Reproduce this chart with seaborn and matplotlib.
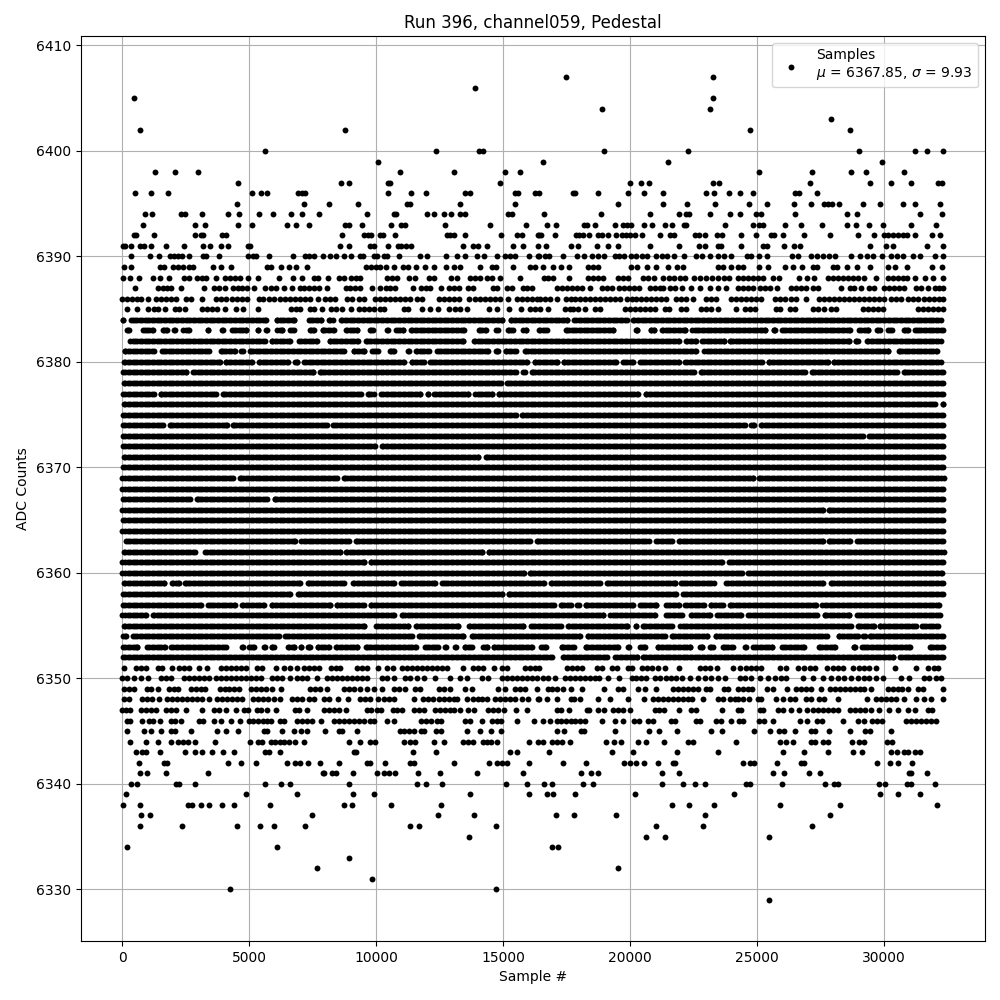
import pandas as pd
import matplotlib
matplotlib.use("Agg")
import matplotlib.pyplot as plt
import seaborn as sns

# sparse ADC levels, sample numbers
s6407 = [17490, 23267]
s6406 = [13914]
s6405 = [473, 23267]
s6404 = [18905, 23149]
s6403 = [27904]
s6402 = [709, 8765, 24721, 28651]
s6400 = [5621, 12342, 14058, 14228, 18983, 22285, 29005, 31206, 31677, 32306]
s6399 = [10062, 16586, 21498, 29909]
s6398 = [1298, 2084, 2988, 10927, 13088, 15093, 15682, 25075, 27158, 28690, 29280, 30774]
s6397 = [4560, 8608, 8923, 10481, 10560, 14896, 20005, 20437, 20752, 23267, 23503, 27079, 29437, 30262, 31048, 32109, 32266]
s6396 = [512, 1141, 1809, 5110, 5464, 5700, 6918, 7075, 7193, 10455, 11359, 11949, 13521, 13704, 15486, 15604, 16271, 16429,
         17765, 17844, 18748, 19927, 20555, 21302, 22992, 23306, 23896, 24328, 24839, 26490, 26647, 27354]
s6395 = [4521, 7154, 8137, 9276, 11202, 11320, 13324, 15486, 19534, 21302, 22245, 23346, 24682, 25389, 26450, 27118, 27629,
         27787, 27944, 28219, 29162, 29830, 30734, 31206, 32188]
s6394 = [905, 1180, 2320, 2477, 3145, 4167, 4600, 5386, 5936, 6643, 7075, 7744, 9630, 10691, 10770, 11988, 12263, 12656, 12931,
         13324, 13521, 15210, 15368, 16625, 18865, 20791, 21931, 22206, 22324, 23149, 23935, 24328, 24957, 25153, 26490, 28533,
         28926, 31402, 32266]
s6393 = [827, 2870, 3263, 4560, 5110, 6486, 6840, 7350, 8765, 8923, 9433, 10573, 10966, 11123, 12695, 14503, 15918, 16743, 17097,
         18197, 18315, 18630, 19416, 19730, 19887, 20044, 20555, 20870, 21381, 21656, 22127, 22206, 23739, 24839, 25075, 25232,
         26097, 26725, 27551, 28533, 28887, 29398, 29948, 31048, 32031]
s6392 = [473, 552, 1259, 2870, 3106, 3185, 3931, 4089, 8647, 9512, 9669, 9787, 10141, 10259, 10730, 12774, 12892, 13088, 13482,
         14935, 15564, 15761, 16390, 16429, 16507, 17058, 17883, 18001, 18158, 18394, 18748, 18905, 19141, 19455, 19691, 19848,
         20005, 20202, 20477, 21184, 21577, 21734, 22560, 22717, 22953, 23424, 23621, 24367, 24957, 25546, 25664, 26018, 26843,
         27865, 28966, 29594, 29987, 30145, 30341, 30538, 30734, 30891, 31206, 31874, 32188]
s6391 = [27, 106, 342, 709, 866, 1141, 1731, 2438, 3185, 3460, 3892, 4167, 4953, 5032, 8569, 8923, 9748, 9905, 10455, 10848, 10966,
         11163, 11359, 13442, 13835, 14032, 14385, 15407, 15800, 16390, 16704, 17686, 17962, 18708, 19141, 19534, 20791, 21931,
         22717, 22953, 23464, 23581, 24367, 25232, 25389, 26057, 26450, 26686, 29437, 30066, 30341, 31677, 32306]
s6390 = [355, 1102, 1456, 1888, 2045, 2202, 2359, 2635, 3185, 3303, 3814, 4953, 5150, 5268, 5779, 6722, 7193, 7350, 7547, 7901, 8176,
         8411, 8726, 9001, 9355, 9473, 9905, 10023, 10298, 10416, 10888, 11713, 11988, 12735, 13206, 13521, 13992, 14267, 14778,
         15093, 15289, 15486, 16036, 16390, 16429, 16665, 16822, 17372, 17922, 18197, 18512, 18748, 18983, 19416, 19573, 19770,
         20044, 20241, 20477, 20673, 21027, 21263, 21459, 21734, 22127, 22599, 22835, 23149, 23464, 23700, 23975, 24603, 24760,
         25075, 25389, 26372, 26608, 27118, 27354, 27590, 27826, 28062, 28690, 29044, 29319, 29555, 29908, 30262, 30498, 30734,
         31127, 31402, 31992, 32306]
s6389 = [80, 355, 1495, 1652, 2006, 2202, 2399, 2635, 2792, 3578, 3892, 4285, 5700, 5857, 6250, 6565, 6840, 7272, 9591, 9787, 9984,
         10167, 10377, 10691, 11045, 11241, 11556, 11910, 12263, 12735, 13088, 13324, 14110, 14582, 14739, 15407, 16075, 16271,
         16586, 16979, 17293, 17608, 18355, 18551, 18748, 20044, 20280, 20673, 21027, 21498, 21852, 22088, 23464, 23660, 23975,
         24250, 24446, 25075, 25429, 26097, 26411, 26765, 27197, 27354, 27983, 28140, 28533, 28926, 29437, 30145, 30420, 30891,
         31874, 32266]
s6388 = [27, 316, 670, 1220, 1495, 1849, 2438, 2635, 2949, 3145, 3303, 3696, 4049, 4246, 4442, 4639, 4953, 5346, 6171, 6722, 7075,
         7547, 7704, 8097, 8530, 8726, 9001, 9197, 9355, 10416, 10612, 10809, 11281, 11516, 12067, 12263, 12931, 13206, 13717,
         13914, 14110, 14385, 14582, 14896, 15682, 16625, 16783, 16979, 17608, 18355, 18551, 18748, 18944, 19534, 19730, 19927,
         20516, 20713, 20948, 21302, 21538, 21734, 21970, 22167, 22520, 22756, 22992, 23228, 23464, 23700, 23896, 24250, 24446,
         24643, 24839, 25036, 25232, 25625, 25861, 26647, 26961, 27236, 27787, 27983, 28179, 28376, 28572, 28769, 28965, 29201,
         29673, 30145, 30341, 30538, 30734, 30891, 31206, 31598, 31913, 32306]
s6387 = [512, 1416, 1613, 1783, 1940, 2320, 3224, 3617, 3814, 4036, 4377, 4560, 4730, 4927, 5189, 5621, 5870, 6067, 6394, 6696, 6997,
         7180, 7350, 7547, 7744, 8071, 8831, 8988, 9184, 9355, 9840, 10141, 10403, 10560, 10757, 11438, 11765, 11975, 12132, 12551,
         12853, 13075, 13285, 13638, 13809, 14595, 14778, 15171, 15341, 15774, 15957, 16141, 17136, 17306, 17503, 17700, 17896,
         18093, 18433, 18878, 19075, 19272, 19573, 19769, 19966, 20162, 20359, 20778, 20975, 21171, 21302, 21564, 21787, 22062,
         22416, 22743, 23149, 23464, 23791, 24250, 24446, 24643, 24839, 25101, 25297, 25520, 25795, 26346, 26542, 26739, 26935,
         27197, 27394, 28298, 28664, 28835, 29096, 29424, 29620, 30014, 30211, 30407, 30604, 30800, 31258, 31455, 31717, 32018,
         32175, 32306]
s6386 = [14, 211, 407, 604, 761, 1036, 1325, 1521, 1718, 1914, 2111, 2504, 2700, 3132, 3683, 3879, 4076, 4338, 4534, 4731, 4927, 5386,
         5543, 5779, 5975, 6237, 6434, 6630, 6827, 7023, 7219, 7416, 7704, 8000, 8202, 8399, 8857, 9053, 9316, 9512, 9971, 10167,
         10364, 10560, 10757, 10953, 11150, 11346, 11608, 11805, 12460, 12656, 12853, 13049, 13246, 13678, 13900, 14097, 14294,
         14490, 14687, 14883, 15210, 15538, 15734, 15931, 16127, 16324, 16455, 16652, 16848, 17136, 17477, 17660, 17844, 18027,
         18224, 18420, 18617, 18813, 19010, 19206, 19403, 19599, 19861, 20058, 20254, 20451, 20647, 20844, 21040, 21237, 21433,
         21826, 22023, 22219, 22481, 22979, 23202, 23398, 23987, 24184, 24380, 24577, 24774, 24970, 25167, 25691, 25887, 26084,
         26346, 26542, 26935, 27459, 27656, 27852, 28049, 28245, 28442, 28638, 28835, 29031, 29228, 29424, 29621, 29817, 30014,
         30276, 30472, 30669, 30931, 31127, 31323, 31586, 31782, 31979, 32175, 32306]
s6385 = [211, 604, 1023, 1259, 1416, 1691, 2071, 2241, 2464, 3159, 3355, 3551, 3748, 4049, 4469, 4770, 5346, 6669, 6853, 7023, 7390,
         7573, 7861, 8228, 8438, 8660, 9001, 9316, 9512, 9709, 9905, 10167, 10324, 11084, 11254, 11791, 12132, 12420, 12853, 13115,
         13311, 13573, 14464, 14752, 15250, 15695, 16062, 16259, 16455, 16783, 17438, 17634, 17739, 17962, 18224, 18617, 18813,
         19796, 19992, 20189, 20385, 20582, 20778, 20975, 21367, 21538, 22023, 22219, 22809, 23005, 23202, 23464, 24158, 24512,
         24708, 24905, 25730, 25887, 26280, 26477, 27197, 27394, 27655, 27917, 28114, 29162, 29358, 29555, 29752, 29974, 31323,
         31520, 31717, 31913, 32110, 32306]
s6351 = [80, 538, 735, 932, 1416, 1586, 1966, 2241, 2438, 2635, 3027, 3329, 3905, 4076, 4272, 4469, 4665, 4861, 5320, 5517, 6067, 6368,
         6604, 6892, 7180, 7350, 7547, 7744, 8228, 8438, 8595, 9250, 9447, 9643, 10062, 10429, 10665, 11019, 11215, 11412, 11608,
         11805, 12001, 12197, 12394, 12591, 12787, 13442, 13835, 14032, 14228, 14660, 14949, 15171, 15866, 16062, 16259, 16429,
         17503, 17700, 17896, 18119, 18682, 18879, 19272, 19468, 19927, 20084, 20490, 20673, 20883, 21105, 21381, 21931, 22743,
         22938, 23136, 23424, 24053, 24315, 24551, 24774, 24970, 25167, 25887, 26149, 26608, 26830, 27066, 27263, 27747, 28009,
         28180, 28402, 28769, 29031, 29228, 29424, 29686, 30420, 31258, 31717, 31979, 32109]
s6350 = [14, 211, 473, 735, 1010, 1521, 1718, 1940, 2438, 2635, 2831, 3027, 3224, 3421, 3683, 3879, 4076, 4272, 4469, 4665, 4861, 5058,
         5255, 5451, 5910, 6106, 6302, 6630, 6892, 7088, 7285, 7678, 8071, 8268, 8464, 8660, 8857, 9053, 9250, 9447, 9643, 10232,
         10429, 10691, 11150, 11346, 11608, 11870, 12329, 12892, 13311, 13573, 14162, 14424, 14949, 15145, 15342, 15538, 15734,
         15931, 16127, 16324, 16586, 16783, 17045, 17438, 17634, 17831, 18027, 18224, 18420, 18617, 18787, 19141, 19573, 20058,
         20254, 20451, 20647, 20975, 21171, 21407, 21630, 21826, 22062, 22350, 22678, 22938, 23202, 23464, 23726, 24315, 24512,
         24774, 25101, 25429, 25691, 25953, 26149, 26804, 27197, 27590, 27917, 28180, 28442, 28704, 28965, 29228, 29424, 29686,
         29948, 30669, 30996, 31586, 31782, 32044, 32241]
s6349 = [80, 277, 473, 971, 1128, 1416, 1849, 2045, 2202, 2726, 2896, 3093, 3263, 3853, 4036, 4206, 4403, 4600, 5058, 5255, 5451, 5648,
         5910, 6276, 7416, 7613, 7809, 8071, 8726, 8923, 9119, 9381, 9643, 9905, 10232, 10691, 10888, 11150, 11543, 11739, 12460,
         12656, 12892, 13507, 13769, 14818, 15079, 15473, 15669, 15866, 16324, 16783, 16914, 17110, 17372, 17660, 18119, 18983,
         19534, 19730, 20320, 20582, 21040, 21695, 21892, 22088, 22285, 22481, 22678, 23005, 23136, 23686, 23857, 24250, 24446,
         24643, 24813, 25389, 25625, 26188, 26542, 26739, 26935, 27132, 27525, 27878, 28088, 28284, 28481, 28678, 28874, 29071,
         29228, 29490, 30145, 30341, 30538, 30708, 30931, 31323, 31520, 32306]
s6348 = [80, 277, 801, 997, 1193, 1456, 1757, 1953, 2150, 2346, 2543, 2739, 2936, 3132, 3420, 3748, 3945, 4141, 4338, 4534, 4731, 5163,
         5346, 5543, 5739, 5975, 6237, 6696, 6892, 7088, 7350, 7547, 7940, 8137, 8490, 8883, 9381, 9578, 9748, 10062, 10298, 10494,
         10691, 11477, 11843, 12040, 12237, 12460, 12656, 12853, 13049, 13206, 13573, 13835, 14032, 14162, 14385, 14687, 14883,
         15079, 15276, 15473, 15735, 16000, 16390, 16429, 16743, 17136, 17660, 17804, 18040, 18721, 19219, 19927, 20555, 20909,
         21105, 21302, 21498, 21695, 21892, 22088, 22285, 22441, 22874, 23464, 23660, 23922, 24118, 24250, 24446, 24682, 25036,
         25167, 25730, 26018, 26280, 26477, 26935, 27132, 27433, 27656, 28180, 29320, 29686, 29882, 30079, 30276, 30472, 30800,
         31258, 31586, 31848, 32306]
s6347 = [14, 146, 316, 735, 932, 1128, 1325, 1718, 1914, 2111, 2517, 3159, 3617, 3814, 4076, 4482, 4796, 4953, 5320, 5477, 5713, 6067,
         6827, 6958, 7272, 7940, 8137, 8333, 8530, 8831, 9643, 9800, 10036, 10193, 10665, 10822, 11019, 11477, 11673, 11870, 12302,
         12499, 12695, 12892, 13088, 13311, 13638, 13861, 14424, 14621, 14817, 15040, 15512, 15931, 17110, 17280, 17608, 18315,
         18394, 18748, 18970, 19337, 19534, 19730, 19992, 20974, 21145, 21328, 21931, 22416, 22586, 23621, 24250, 24380, 25101,
         25232, 25821, 26018, 26346, 26647, 26961, 27197, 27394, 27590, 27787, 27983, 28180, 28678, 28874, 29071, 29267, 29490,
         29817, 30184, 30538, 30931, 31219, 31743, 31874]
s6346 = [185, 316, 787, 1063, 1220, 1495, 1914, 2071, 2307, 3027, 3185, 3617, 3892, 4285, 4639, 4993, 5163, 5346, 5543, 5713, 5870, 6237,
         6394, 6892, 7088, 7285, 7482, 7822, 8333, 8530, 8726, 8923, 9119, 9316, 9512, 9748, 9905, 10416, 10691, 11765, 11962, 12158,
         12394, 12551, 13507, 13704, 14162, 14582, 14752, 14922, 15564, 16232, 16586, 16848, 17110, 17267, 17477, 17660, 17844,
         18027, 18237, 18892, 19416, 19730, 20149, 20346, 20713, 20909, 21630, 21787, 22612, 22769, 23398, 23594, 23974, 24289,
         24446, 25075, 25271, 25625, 26686, 26961, 27354, 27551, 28376, 28966, 29228, 29516, 29712, 29922, 30865, 31062, 31258,
         31455, 31651, 31848, 32031]
s6345 = [198, 866, 1128, 1534, 1914, 2071, 2713, 3735, 4089, 4560, 5582, 5713, 6289, 6761, 7049, 7272, 7979, 8530, 8660, 9237, 10927,
         11110, 11281, 11477, 11765, 11896, 12355, 12551, 13573, 14110, 14516, 14935, 17136, 17411, 18066, 18197, 19416, 20752,
         21145, 21852, 23175, 23621, 24865, 25507, 25861, 26044, 26490, 27118, 27302, 27826, 28651, 29267, 29450, 30262]
s6344 = [316, 945, 1416, 1927, 2202, 2399, 2595, 2870, 3656, 5032, 5346, 5517, 5844, 6001, 6211, 6368, 6565, 6800, 7154, 8923, 9355,
         9748, 9944, 11110, 11346, 11543, 12263, 12656, 13442, 13638, 13809, 14228, 14359, 14516, 14752, 16003, 16390, 16560, 16914,
         17110, 17333, 17647, 19062, 19376, 19651, 20320, 20634, 21341, 22285, 22481, 24158, 25887, 26123, 26411, 27132, 27302,
         27590, 27813, 28730, 29031, 29201, 30105, 30302]
s6343 = [552, 801, 932, 1495, 2477, 2870, 3145, 3538, 3971, 4403, 5621, 5779, 6237, 9119, 9224, 11438, 12342, 15289, 15564, 16822,
         19298, 20123, 21852, 23464, 26018, 26843, 27787, 28769, 29123, 30262, 30498, 30800, 30931, 31219, 31415]
s6342 = [670, 1652, 1757, 4167, 4678, 5268, 6486, 6827, 6997, 7311, 7783, 8543, 9643, 9748, 10337, 11346, 11477, 13088, 14464, 14778,
         14949, 15145, 16036, 17372, 18276, 19769, 20005, 20241, 20555, 21105, 21695, 21787, 24446, 24708, 24878, 25782, 26739,
         26843, 29712, 30223, 30538, 31088]
s6341 = [709, 984, 1731, 3381, 7901, 7966, 8268, 8438, 9080, 10023, 10298, 10508, 10730, 11634, 12499, 13992, 15800, 18079, 18472,
         18721, 21263, 21931, 25625, 26057, 27040, 27472, 30996, 31075, 31677]
s6340 = [355, 591, 2111, 2241, 2870, 5621, 6250, 6604, 8923, 11595, 11949, 12577, 15132, 15957, 16625, 16940, 18158, 18551, 21263,
         22088, 22560, 22953, 24551, 24708, 25979, 27669, 28049, 28180, 29817, 30027, 30891, 31062, 31992]
s6339 = [159, 4875, 6879, 9080, 9905, 13717, 16036, 16743, 16979, 17844, 20202, 24092, 29830, 30538, 31402]
s6338 = [41, 709, 2595, 2752, 3106, 3420, 3931, 4403, 5818, 8726, 9040, 10573, 12538, 21656, 22324, 23306, 25900, 28258, 32070]
s6337 = [748, 1102, 7468, 12420, 13874, 17097, 17804, 19455, 22953, 27865]
s6336 = [709, 2359, 4521, 5425, 5975, 7193, 11320, 11674, 14739, 21027, 22874, 27158]
s6335 = [13678, 20634, 21381, 25468]
s6334 = [198, 6093, 16940, 17175]
s6333 = [8923]
s6332 = [7665, 19534]
s6331 = [9826]
s6330 = [4246, 14739]
s6329 = [25468]

sparse_rows = [(6407, s6407), (6406, s6406), (6405, s6405), (6404, s6404), (6403, s6403), (6402, s6402), (6400, s6400),
               (6399, s6399), (6398, s6398), (6397, s6397), (6396, s6396), (6395, s6395), (6394, s6394), (6393, s6393),
               (6392, s6392), (6391, s6391), (6390, s6390), (6389, s6389), (6388, s6388), (6387, s6387), (6386, s6386),
               (6385, s6385), (6351, s6351), (6350, s6350), (6349, s6349), (6348, s6348), (6347, s6347), (6346, s6346),
               (6345, s6345), (6344, s6344), (6343, s6343), (6342, s6342), (6341, s6341), (6340, s6340), (6339, s6339),
               (6338, s6338), (6337, s6337), (6336, s6336), (6335, s6335), (6334, s6334), (6333, s6333), (6332, s6332),
               (6331, s6331), (6330, s6330), (6329, s6329)]

# dense levels look solid, so they share one list of samples and only the
# visible breaks of each row are read from the picture
dense_samples = [120, 310, 505, 690, 885, 1070, 1265, 1450, 1640, 1835, 2020, 2215, 2400, 2595, 2780, 2975, 3160, 3350, 3545, 3730,
                 3925, 4110, 4305, 4490, 4680, 4875, 5060, 5255, 5440, 5635, 5820, 6015, 6200, 6390, 6585, 6770, 6965, 7150, 7345,
                 7530, 7720, 7915, 8100, 8295, 8480, 8675, 8860, 9055, 9240, 9430, 9625, 9810, 10005, 10190, 10385, 10570, 10760,
                 10955, 11140, 11335, 11520, 11715, 11900, 12095, 12280, 12470, 12665, 12850, 13045, 13230, 13425, 13610, 13800,
                 13995, 14180, 14375, 14560, 14755, 14940, 15135, 15320, 15510, 15705, 15890, 16085, 16270, 16465, 16650, 16840,
                 17035, 17220, 17415, 17600, 17795, 17980, 18175, 18360, 18550, 18745, 18930, 19125, 19310, 19505, 19690, 19880,
                 20075, 20260, 20455, 20640, 20835, 21020, 21215, 21400, 21590, 21785, 21970, 22165, 22350, 22545, 22730, 22920,
                 23115, 23300, 23495, 23680, 23875, 24060, 24255, 24440, 24630, 24825, 25010, 25205, 25390, 25585, 25770, 25960,
                 26155, 26340, 26535, 26720, 26915, 27100, 27295, 27480, 27670, 27865, 28050, 28245, 28430, 28625, 28810, 29000,
                 29195, 29380, 29575, 29760, 29955, 30140, 30335, 30520, 30710, 30905, 31090, 31285, 31470, 31665, 31850, 32040, 32235,
                 215, 410, 600, 790, 975, 1170, 1355, 1545, 1740, 1925, 2120, 2305, 2500, 2685, 2880, 3065, 3255, 3450, 3635,
                 3830, 4015, 4210, 4395, 4585, 4780, 4965, 5160, 5345, 5540, 5725, 5920, 6105, 6295, 6490, 6675, 6870, 7055, 7250,
                 7435, 7625, 7820, 8005, 8200, 8385, 8580, 8765, 8960, 9145, 9335, 9530, 9715, 9910, 10095, 10290, 10475, 10665,
                 10860, 11045, 11240, 11425, 11620, 11805, 12000, 12185, 12375, 12570, 12755, 12950, 13135, 13330, 13515, 13705,
                 13900, 14085, 14280, 14465, 14660, 14845, 15040, 15225, 15415, 15610, 15795, 15990, 16175, 16370, 16555, 16745,
                 16940, 17125, 17320, 17505, 17700, 17885, 18080, 18265, 18455, 18650, 18835, 19030, 19215, 19410, 19595, 19785,
                 19980, 20165, 20360, 20545, 20740, 20925, 21120, 21305, 21495, 21690, 21875, 22070, 22255, 22450, 22635, 22825,
                 23020, 23205, 23400, 23585, 23780, 23965, 24160, 24345, 24535, 24730, 24915, 25110, 25295, 25490, 25675, 25865,
                 26060, 26245, 26440, 26625, 26820, 27005, 27200, 27385, 27575, 27770, 27955, 28150, 28335, 28530, 28715, 28905,
                 29100, 29285, 29480, 29665, 29860, 30045, 30240, 30425, 30615, 30810, 30995, 31190, 31375, 31570, 31755, 31945, 32140]

dense_levels = [6384, 6383, 6382, 6381, 6380, 6379, 6378, 6377, 6376, 6375, 6374, 6373, 6372, 6371, 6370, 6369, 6368,
                6367, 6366, 6365, 6364, 6363, 6362, 6361, 6360, 6359, 6358, 6357, 6356, 6355, 6354, 6353, 6352]
dense_first = [40, 211, 316, 119, 80, 27, 80, 27, 80, 53, 53, 53, 27, 80, 27, 0, 0,
               53, 13, 53, 13, 159, 80, 13, 13, 80, 27, 53, 13, 80, 53, 53, 53]
dense_last = [32227, 32332, 32227, 32096, 32227, 32332, 32306, 32306, 32332, 32332, 32332, 32332, 32306, 32332, 32332, 32358, 32332,
              32306, 32332, 32306, 32332, 32332, 32358, 32306, 32280, 32306, 32332, 32175, 32201, 32135, 32306, 32332, 32332]

g6384 = [(41, 342), (5674, 6080), (6787, 7364), (7835, 8150), (8293, 8635), (14975, 15316), (17529, 17805), (19861, 20123)]
g6383 = [(263, 814), (1220, 1600), (1783, 2045), (2071, 2412), (2621, 3395), (3381, 3958), (3931, 4312), (4888, 5360), (5346, 5648),
         (5713, 6106), (6302, 6604), (6761, 7390), (7573, 7914), (8333, 8831), (9250, 9748), (9865, 10429), (10455, 10796),
         (11045, 11386), (13468, 14071), (14319, 14792), (14713, 15185), (15407, 15800), (15892, 16429), (16743, 17477),
         (19337, 20228), (20280, 20818), (20961, 21250), (22180, 22455), (25323, 25665), (25717, 25992), (28664, 29005),
         (29385, 29726), (29843, 30158), (30302, 30774), (30956, 31232)]
g6382 = [(5608, 5883), (6630, 6971), (7678, 8176), (9276, 9617), (13442, 13848), (21917, 22219), (22599, 22848), (23686, 23948),
         (28638, 28900), (28992, 29333)]
g6381 = [(1259, 1574), (3420, 3879), (4455, 4744), (4691, 5045), (8726, 9119), (9538, 9853), (10088, 10534), (10717, 11255),
         (11307, 11582), (12066, 12394), (14424, 14726), (14804, 15119), (15499, 15853), (22612, 22927), (30170, 30577)]
g6380 = [(3840, 4089), (5110, 5373), (6525, 6800), (6879, 7167), (11110, 11425), (11870, 12132), (15957, 16246), (17136, 17385),
         (19429, 19704), (20123, 20385), (21931, 22167), (25193, 25481), (27786, 28036)]
g6379 = [(2516, 2805), (7534, 7809), (15499, 15800), (15865, 16141), (22507, 22782), (26869, 27171), (30498, 30774)]
g6378 = [(14909, 15145)]
g6377 = [(1259, 1521), (3695, 3958), (9407, 9669), (9905, 10193), (11739, 12041), (12027, 12289), (13638, 13901), (14582, 14831),
         (20306, 20621)]
g6376 = [(32005, 32332)]
g6375 = [(15499, 15735)]
g6374 = [(1613, 1888), (4128, 4377), (8058, 8307), (24511, 24774), (24865, 25141)]
g6373 = [(29188, 29424)]
g6372 = [(9970, 10233)]
g6371 = [(14031, 14333)]
g6370 = []
g6369 = [(4364, 4639), (8464, 8726), (24839, 25075)]
g6368 = []
g6367 = [(2660, 2936), (5713, 6001)]
g6366 = [(27616, 27852)]
g6365 = []
g6364 = []
g6363 = [(6813, 7063), (8949, 9224), (16062, 16324), (20739, 21040), (21655, 21931), (27590, 27852), (28651, 28939)]
g6362 = [(2857, 3264), (8582, 8831), (14188, 14438)]
g6361 = [(9538, 9787), (23621, 23896)]
g6360 = [(15826, 16075), (24407, 24656)]
g6359 = [(1652, 1954), (2228, 2491), (7023, 7325), (8752, 9093), (10691, 10966), (12328, 12604), (16612, 16888), (18813, 19075),
         (21786, 22023), (23293, 23791), (27590, 27931)]
g6358 = [(6630, 6918), (14961, 15224), (21813, 22101)]
g6357 = [(3093, 3368), (4429, 4704), (5569, 5883), (8202, 8464), (9512, 9800), (17005, 17281), (17660, 17909), (17974, 18263),
         (20123, 20398), (21040, 21407), (21917, 22167), (22900, 23176), (23647, 23922), (27315, 27577)]
g6356 = [(931, 1233), (10691, 11032), (18944, 19219), (21001, 21407), (22049, 22390), (23162, 23438), (24367, 24656), (27380, 27669),
         (28638, 28939)]
g6355 = [(9538, 10010), (11241, 11556), (13245, 13652), (15800, 16102), (17267, 17543), (19887, 20254), (20215, 20529), (21655, 21983),
         (28690, 28979), (29607, 29856), (31258, 31494)]
g6354 = [(158, 421), (6171, 6434), (11398, 11687), (13442, 13783), (18027, 18329), (21394, 21669), (23031, 23372), (27747, 28219),
         (28992, 29241), (29188, 29464)]
g6353 = [(604, 997), (1678, 1940), (4102, 4744), (4717, 5006), (5189, 5608), (5582, 5883), (5962, 6539), (6787, 7063), (7049, 7325),
         (7416, 7718), (8163, 8438), (9250, 9617), (11569, 11910), (12446, 12735), (12721, 13154), (13101, 13482), (13796, 14202),
         (14385, 14660), (16154, 16495), (16678, 17320), (17791, 18263), (19520, 19901), (19953, 20385), (20608, 21119), (22350, 22743),
         (22835, 23136), (23254, 23660), (24053, 24551), (24538, 24852), (25586, 25992), (26830, 27433), (28075, 28809), (28861, 29136),
         (31022, 31822)]
g6352 = [(16939, 17372), (19101, 19416), (20280, 20529), (30367, 30629)]

dense_gaps = [g6384, g6383, g6382, g6381, g6380, g6379, g6378, g6377, g6376, g6375, g6374, g6373, g6372, g6371, g6370, g6369, g6368,
              g6367, g6366, g6365, g6364, g6363, g6362, g6361, g6360, g6359, g6358, g6357, g6356, g6355, g6354, g6353, g6352]

legend_label = "Samples\n$\\mu$ = 6367.85, $\\sigma$ = 9.93"

sample_no = []
adc = []
for level, samples in sparse_rows:
    sample_no += samples
    adc += [level] * len(samples)

for level, first, last, gaps in zip(dense_levels, dense_first, dense_last, dense_gaps):
    row = [first, last]
    for s in dense_samples:
        if first < s < last and not any(a < s < b for a, b in gaps):
            row.append(s)
    for a, b in gaps:
        row += [a, b]
    sample_no += row
    adc += [level] * len(row)

df = pd.DataFrame({"sample": sample_no, "adc": adc})

sns.set_style("ticks", {"text.color": "black", "axes.labelcolor": "black", "xtick.color": "black", "ytick.color": "black"})
plt.rcParams["font.family"] = ["DejaVu Sans"]
fig, ax = plt.subplots(figsize=(10, 10), dpi=100)
sns.scatterplot(data=df, x="sample", y="adc", color="black", marker="o", s=18, linewidth=0, label=legend_label, ax=ax)
ax.grid(True, color="#b0b0b0", linewidth=0.8)
ax.set_axisbelow(True)
for spine in ax.spines.values():
    spine.set_color("black")
    spine.set_linewidth(0.8)
ax.tick_params(length=3.5, width=0.8)
ax.set_xticks([0, 5000, 10000, 15000, 20000, 25000, 30000])
ax.set_yticks([6330, 6340, 6350, 6360, 6370, 6380, 6390, 6400, 6410])
ax.set_xlabel("Sample #")
ax.set_ylabel("ADC Counts")
ax.set_title("Run 396, channel059, Pedestal")
ax.legend(loc="upper right", frameon=True, edgecolor="0.8", framealpha=0.8, fontsize=10)
fig.subplots_adjust(left=0.081, right=0.985, top=0.964, bottom=0.059)
plt.savefig("out.png")
plt.close()
